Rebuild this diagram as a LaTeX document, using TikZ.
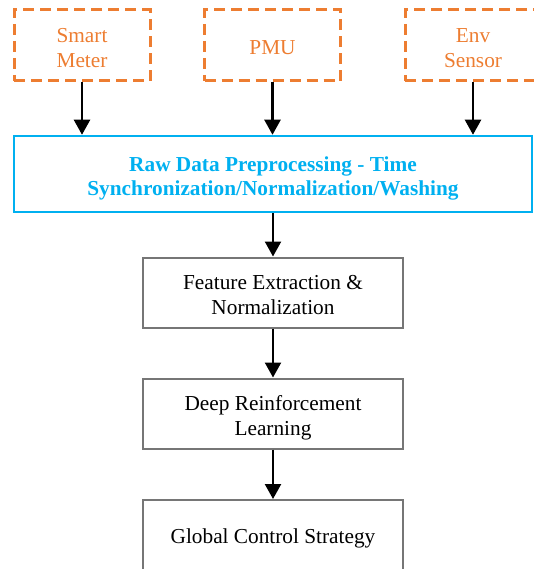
\documentclass[tikz,border=0pt]{standalone}
\usepackage{fontspec}
\setmainfont{Liberation Serif}
\usetikzlibrary{arrows.meta}
\definecolor{sorange}{RGB}{237,125,49}
\definecolor{sblue}{RGB}{0,176,240}
\definecolor{sgray}{RGB}{118,118,118}
\newcommand\lowtext[2][-4.5pt]{\raisebox{#1}[\height][\depth]{\begin{tabular}{@{}c@{}}#2\end{tabular}}}
\begin{document}
\begin{tikzpicture}[x=1pt,y=-1pt,
  src/.style={draw=sorange, line width=3pt, dash pattern=on 11pt off 6pt, text=sorange,
    minimum width=136pt, minimum height=71pt, inner sep=0pt, align=center,
    font=\fontsize{21.3}{24.5}\selectfont},
  rawbox/.style={draw=sblue, line width=2.5pt, text=sblue, minimum width=518pt, minimum height=76pt,
    inner sep=0pt, align=center, font=\fontsize{21.3}{25}\selectfont\bfseries},
  stepbox/.style={draw=sgray, line width=2pt, minimum width=260pt, minimum height=70pt,
    inner sep=0pt, align=center, font=\fontsize{21.3}{24.5}\selectfont},
  arr/.style={line width=2.3pt, -{Triangle[length=15pt,width=16pt]}}]
\useasboundingbox (0,0) rectangle (534,569);
\node[src] (sm) at (82,45.5) {\lowtext{Smart\\Meter}};
\node[src] (pmu) at (272.5,45.5) {\lowtext{PMU}};
\node[src] (env) at (473,45.5) {\lowtext{Env\\Sensor}};
\node[rawbox] (raw) at (273,174) {\lowtext{Raw Data Preprocessing - Time\\Synchronization/Normalization/Washing}};
\node[stepbox] (fe) at (273,292.5) {\lowtext{Feature Extraction \&\\Normalization}};
\node[stepbox] (drl) at (273,413.5) {\lowtext{Deep Reinforcement\\Learning}};
\node[stepbox] (gcs) at (273,535) {\lowtext[-4pt]{Global Control Strategy}};
\draw[arr] (sm.south) -- (sm.south |- raw.north);
\draw[arr] (pmu.south) -- (pmu.south |- raw.north);
\draw[arr] (env.south) -- (env.south |- raw.north);
\draw[arr] (raw.south) -- (fe.north);
\draw[arr] (fe.south) -- (drl.north);
\draw[arr] (drl.south) -- (gcs.north);
\end{tikzpicture}
\end{document}
